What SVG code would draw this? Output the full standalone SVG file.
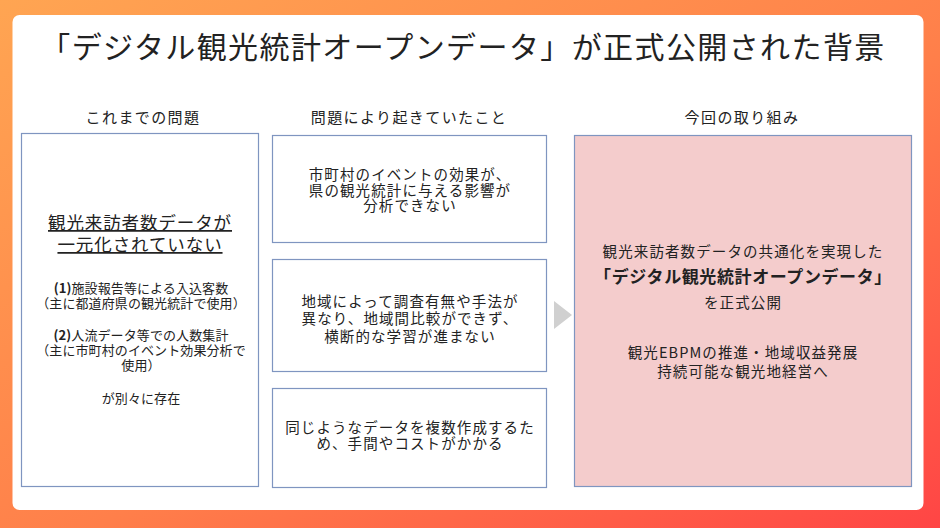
<svg xmlns="http://www.w3.org/2000/svg" width="940" height="528" viewBox="0 0 940 528">
  <defs>
    <linearGradient id="bg" x1="0" y1="0" x2="1" y2="1">
      <stop offset="0" stop-color="#FFA552"/>
      <stop offset="0.55" stop-color="#FF7F4A"/>
      <stop offset="1" stop-color="#FF4545"/>
    </linearGradient>
  </defs>
  <style>
    text { font-family: "Noto Sans CJK JP", "Noto Sans", sans-serif; fill: #222; text-anchor: middle; }
    .title { font-size: 30px; letter-spacing: 1.4px; }
    .hdr { font-size: 15px; letter-spacing: 1.4px; }
    .box { fill: #ffffff; stroke: #7F95C0; stroke-width: 1.2; }
    .pink { fill: #F4CCCC; stroke: #7F95C0; stroke-width: 1.2; }
    .big { font-size: 17.5px; letter-spacing: 0.9px; text-decoration: underline; }
    .sm { font-size: 13px; letter-spacing: 0.1px; }
    .num { font-weight: bold; }
    .md { font-size: 14.5px; letter-spacing: 1.1px; }
    .bold { font-size: 17px; font-weight: bold; letter-spacing: 0.6px; }
    .arrow { fill: #D0D0D0; }
  </style>
  <rect x="0" y="0" width="940" height="528" fill="url(#bg)"/>
  <rect x="12.5" y="15" width="911" height="495" rx="7" fill="#ffffff"/>
  <text class="title" x="463" y="58">「デジタル観光統計オープンデータ」が正式公開された背景</text>

  <text class="hdr" x="143" y="123">これまでの問題</text>
  <text class="hdr" x="409" y="123">問題により起きていたこと</text>
  <text class="hdr" x="742" y="123">今回の取り組み</text>

  <g id="node-left">
    <rect class="box" x="21.5" y="133.5" width="237" height="353"/>
    <text class="big" x="140" y="229">観光来訪者数データが</text>
    <text class="big" x="140" y="251">一元化されていない</text>
    <text class="sm" x="141" y="293"><tspan class="num">(1)</tspan>施設報告等による入込客数</text>
    <text class="sm" x="141" y="308">（主に都道府県の観光統計で使用）</text>
    <text class="sm" x="141" y="340"><tspan class="num">(2)</tspan>人流データ等での人数集計</text>
    <text class="sm" x="141" y="355">（主に市町村のイベント効果分析で</text>
    <text class="sm" x="141" y="370">使用）</text>
    <text class="sm" x="141" y="403">が別々に存在</text>
  </g>

  <g id="node-mid1">
    <rect class="box" x="272.5" y="135.5" width="274" height="107"/>
    <text class="md" x="410" y="180">市町村のイベントの効果が、</text>
    <text class="md" x="410" y="195.5">県の観光統計に与える影響が</text>
    <text class="md" x="410" y="211">分析できない</text>
  </g>

  <g id="node-mid2">
    <rect class="box" x="272.5" y="259.5" width="274" height="112"/>
    <text class="md" x="410" y="307">地域によって調査有無や手法が</text>
    <text class="md" x="410" y="324">異なり、地域間比較ができず、</text>
    <text class="md" x="410" y="342">横断的な学習が進まない</text>
  </g>

  <g id="node-mid3">
    <rect class="box" x="272.5" y="388.5" width="274" height="99"/>
    <text class="md" x="410" y="433">同じようなデータを複数作成するた</text>
    <text class="md" x="410" y="448.5">め、手間やコストがかかる</text>
  </g>

  <g id="connectors">
    <polygon class="arrow" points="554,301 572,315 554,329"/>
  </g>

  <g id="node-right">
    <rect class="pink" x="574.5" y="135.5" width="337" height="351"/>
    <text class="md" x="743" y="257">観光来訪者数データの共通化を実現した</text>
    <text class="bold" x="743" y="283">「デジタル観光統計オープンデータ」</text>
    <text class="md" x="743" y="308">を正式公開</text>
    <text class="md" x="743" y="358">観光EBPMの推進・地域収益発展</text>
    <text class="md" x="743" y="377">持続可能な観光地経営へ</text>
  </g>
</svg>
